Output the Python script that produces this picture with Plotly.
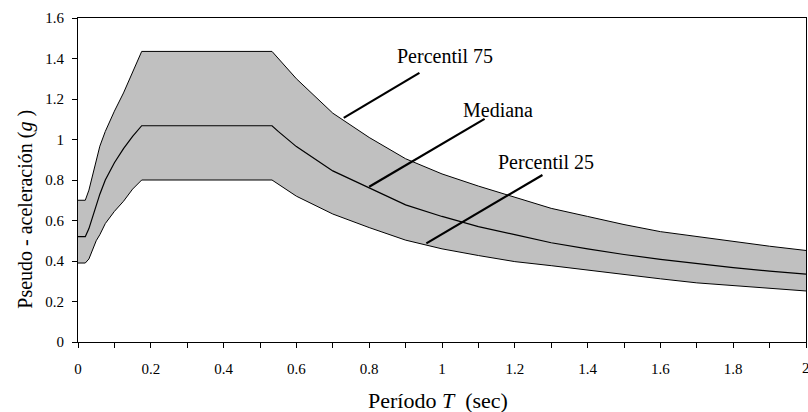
import plotly.graph_objects as go

# Period T (sec)
periods = [0, 0.02, 0.03, 0.04, 0.05, 0.06, 0.075, 0.1, 0.125, 0.15, 0.175, 0.533,
           0.55, 0.6, 0.7, 0.8, 0.9, 1.0, 1.1, 1.2, 1.3, 1.4, 1.5, 1.6, 1.7, 1.8, 1.9, 2.0]

p75 = [0.70, 0.70, 0.75, 0.827, 0.897, 0.967, 1.04, 1.14, 1.23, 1.33, 1.435, 1.435,
       1.40, 1.30, 1.13, 1.01, 0.905, 0.83, 0.77, 0.715, 0.66, 0.62, 0.58, 0.545, 0.52, 0.495, 0.473, 0.452]

mediana = [0.52, 0.52, 0.56, 0.62, 0.675, 0.73, 0.80, 0.885, 0.955, 1.015, 1.068, 1.068,
           1.04, 0.965, 0.845, 0.76, 0.677, 0.62, 0.57, 0.53, 0.49, 0.46, 0.432, 0.408, 0.386, 0.367, 0.35, 0.335]

p25 = [0.39, 0.39, 0.41, 0.46, 0.50, 0.53, 0.585, 0.645, 0.695, 0.755, 0.80, 0.80,
       0.78, 0.72, 0.632, 0.565, 0.503, 0.46, 0.427, 0.397, 0.377, 0.355, 0.332, 0.312, 0.292, 0.278, 0.264, 0.252]

# Labels: text, text position (T, Sa), leader start (T, Sa), leader end (T, Sa)
labels = ["Percentil 75", "Mediana", "Percentil 25"]
label_x = [1.007, 1.155, 1.285]
label_y = [1.41, 1.147, 0.891]
leader_x0 = [0.73, 0.80, 0.957]
leader_y0 = [1.107, 0.767, 0.487]
leader_x1 = [0.938, 1.117, 1.276]
leader_y1 = [1.329, 1.102, 0.825]

x_ticks = [0, 0.2, 0.4, 0.6, 0.8, 1, 1.2, 1.4, 1.6, 1.8, 2]
y_ticks = [0, 0.2, 0.4, 0.6, 0.8, 1, 1.2, 1.4, 1.6]

FONT = "Liberation Serif"

fig = go.Figure()
fig.add_trace(go.Scatter(x=periods, y=p25, mode="lines",
                         line=dict(color="black", width=1), showlegend=False))
fig.add_trace(go.Scatter(x=periods, y=p75, mode="lines", fill="tonexty",
                         fillcolor="#C0C0C0",
                         line=dict(color="black", width=1), showlegend=False))
fig.add_trace(go.Scatter(x=periods, y=mediana, mode="lines",
                         line=dict(color="black", width=1.2), showlegend=False))

for i in range(len(labels)):
    fig.add_shape(type="line", xref="x", yref="y",
                  x0=leader_x0[i], y0=leader_y0[i], x1=leader_x1[i], y1=leader_y1[i],
                  line=dict(color="black", width=2.2))
    fig.add_annotation(x=label_x[i], y=label_y[i], xref="x", yref="y",
                       text=labels[i], showarrow=False,
                       font=dict(family=FONT, size=20, color="black"))

# last x tick label sits on the window edge (partly cut, as in the original)
fig.add_annotation(x=x_ticks[-1], y=-0.0815, xref="x", yref="paper", showarrow=False,
                   text=str(x_ticks[-1]), yanchor="middle", xanchor="center",
                   font=dict(family=FONT, size=15, color="black"))

# axis titles placed in paper space
fig.add_annotation(x=0.494, y=-0.182, xref="paper", yref="paper", showarrow=False,
                   text="Período <i>T</i>  (sec)", yanchor="middle",
                   font=dict(family=FONT, size=22, color="black"))
fig.add_annotation(x=-0.072, y=0.41, xref="paper", yref="paper", showarrow=False,
                   text="Pseudo - aceleración (<i>g</i> )", textangle=-90, xanchor="center",
                   yanchor="middle",
                   font=dict(family=FONT, size=20, color="black"))

fig.update_layout(
    width=808, height=412,
    margin=dict(l=78, r=2, t=18, b=70),
    paper_bgcolor="white", plot_bgcolor="white",
    font=dict(family=FONT, color="black"),
    showlegend=False,
)
fig.update_xaxes(
    range=[0, 2], tickvals=x_ticks, ticks="outside", ticklen=5, tickcolor="black",
    showline=True, linecolor="black", linewidth=1, mirror=True,
    showgrid=False, zeroline=False, automargin=False, ticklabelstandoff=8,
    minor=dict(dtick=0.1, ticks="outside", ticklen=5, tickcolor="black"),
    tickfont=dict(family=FONT, size=15, color="black"),
)
fig.update_yaxes(
    range=[0, 1.6], tickvals=y_ticks, ticks="outside", ticklen=5, tickcolor="black",
    showline=True, linecolor="black", linewidth=1, mirror=True,
    showgrid=False, zeroline=False, automargin=False, ticklabelstandoff=5,
    tickfont=dict(family=FONT, size=15, color="black"),
)

fig.write_html(
    "out.html",
    config={"displayModeBar": False},
    post_script="document.body.style.margin='0';document.body.style.overflow='hidden';",
)
